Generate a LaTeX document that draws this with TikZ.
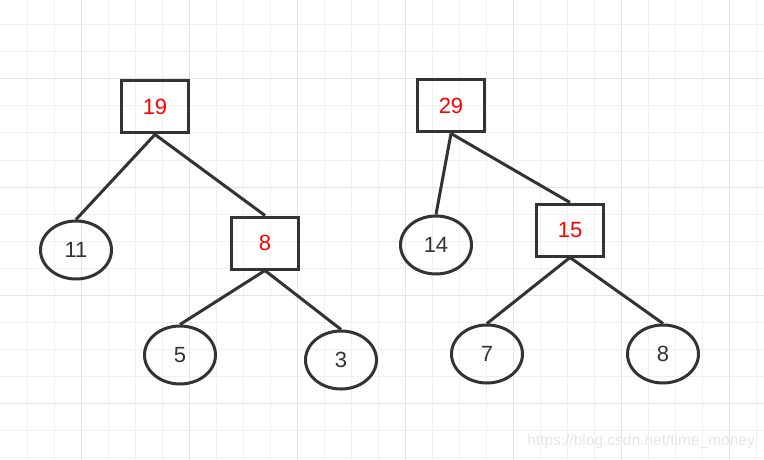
\documentclass[tikz,border=0pt]{standalone}
\usepackage{fontspec}
\setmainfont{Liberation Sans}
\usetikzlibrary{shapes.geometric}
\definecolor{ink}{HTML}{333333}
\definecolor{gridminor}{HTML}{F0F0F0}
\definecolor{gridmajor}{HTML}{E4E4E4}
\definecolor{mark}{HTML}{E6E6E6}
\begin{document}
\begin{tikzpicture}[x=1pt,y=-1pt,
  box/.style={draw=ink,line width=3pt,minimum width=67pt,minimum height=52pt,inner sep=0pt,
    text=red,font=\fontsize{22}{26}\selectfont},
  leaf/.style={ellipse,draw=ink,line width=3pt,minimum width=71pt,minimum height=58pt,inner sep=0pt,
    text=ink,font=\fontsize{22}{26}\selectfont},
  link/.style={draw=ink,line width=3pt}]
  \useasboundingbox[fill=white] (0,0) rectangle (764,460);
  % background grid
  \foreach \gx in {27,54,...,756} \draw[gridminor,line width=1pt] (\gx,0) -- (\gx,460);
  \foreach \gy in {25,52,...,457} \draw[gridminor,line width=1pt] (0,\gy) -- (764,\gy);
  \foreach \gx in {81,189,...,729} \draw[gridmajor,line width=1pt] (\gx,0) -- (\gx,460);
  \foreach \gy in {79,187,...,403} \draw[gridmajor,line width=1pt] (0,\gy) -- (764,\gy);
  % first tree
  \node[box] (n19) at (155,107) {19};
  \node[leaf] (n11) at (76,250) {11};
  \node[box] (n8) at (265,243) {8};
  \node[leaf] (n5) at (180,355) {5};
  \node[leaf] (n3) at (341,360) {3};
  \draw[link] (n19.south) -- (n11.north);
  \draw[link] (n19.south) -- (n8.north);
  \draw[link] (n8.south) -- (n5.north);
  \draw[link] (n8.south) -- (n3.north);
  % second tree
  \node[box] (n29) at (451,106) {29};
  \node[leaf] (n14) at (436,245) {14};
  \node[box] (n15) at (570,230) {15};
  \node[leaf] (n7) at (487,354) {7};
  \node[leaf] (n8b) at (663,354) {8};
  \draw[link] (n29.south) -- (n14.north);
  \draw[link] (n29.south) -- (n15.north);
  \draw[link] (n15.south) -- (n7.north);
  \draw[link] (n15.south) -- (n8b.north);
  \node[anchor=east,text=mark,font=\fontsize{15.5}{18}\selectfont,inner sep=0pt] (wm) at (755,441) {https://blog.csdn.net/time\_money};
\end{tikzpicture}
\end{document}
